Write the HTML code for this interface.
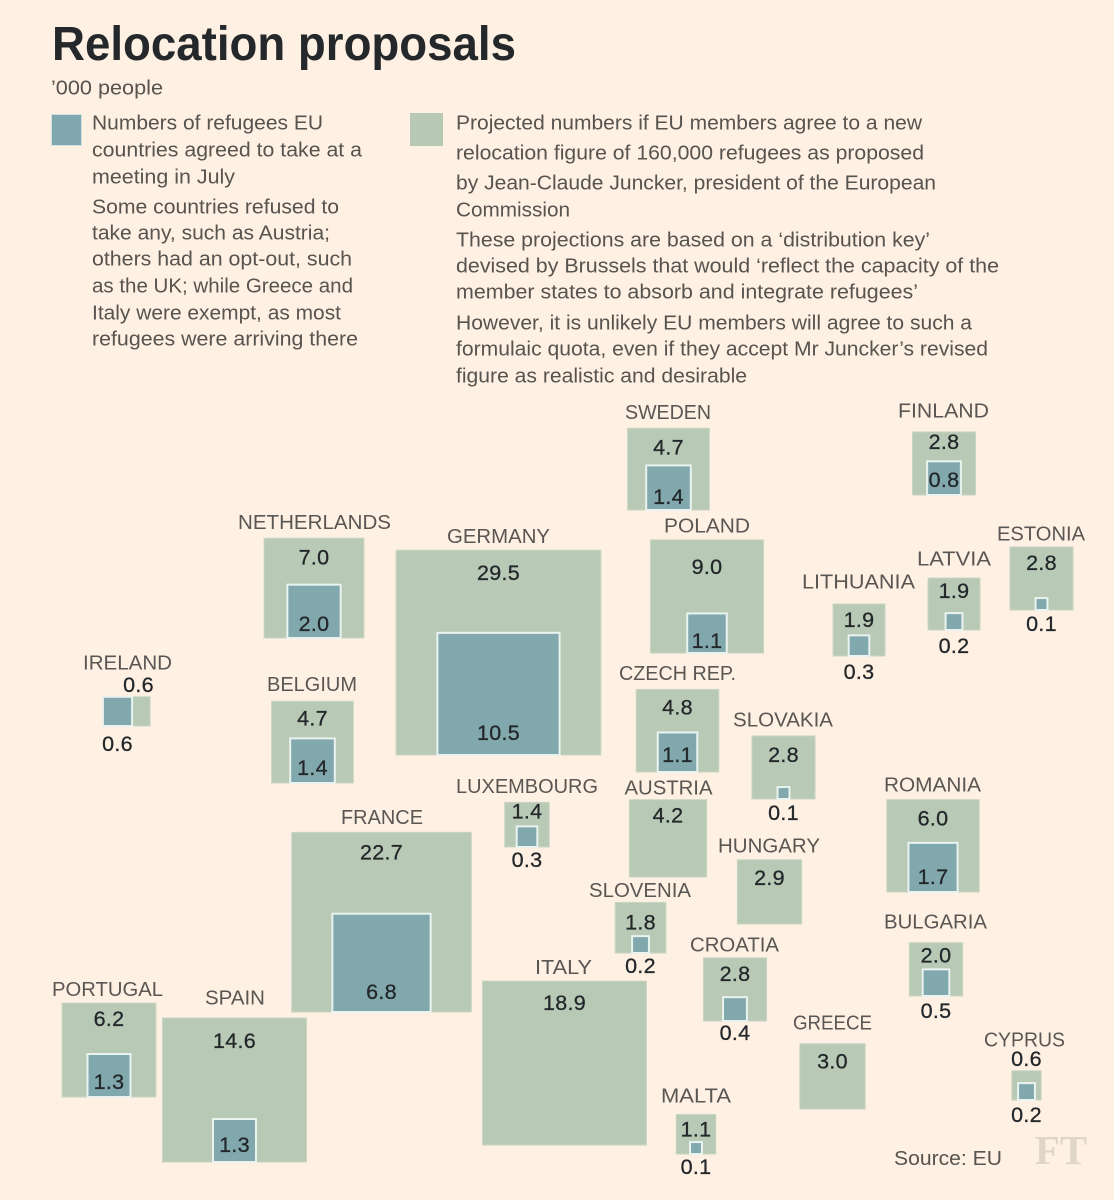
<!DOCTYPE html>
<html lang="en">
<head>
<meta charset="utf-8">
<title>Relocation proposals</title>
<style>
html,body{margin:0;padding:0;background:#fef0e3;}
svg{display:block;font-family:"Liberation Sans",sans-serif;}
.p{font-size:20px;fill:#57534f;}
.n{font-size:20px;fill:#5a5653;text-anchor:middle;}
.v{font-size:21.5px;fill:#23272a;stroke:#23272a;stroke-width:.3px;text-anchor:middle;letter-spacing:.3px;}
</style>
</head>
<body>
<svg id="chart" xmlns="http://www.w3.org/2000/svg" width="1114" height="1200" viewBox="0 0 1114 1200">
  <rect x="0" y="0" width="1114" height="1200" fill="#fef0e3"/>
  <text x="52" y="60" font-size="48" font-weight="700" fill="#24282a" textLength="464" lengthAdjust="spacingAndGlyphs">Relocation proposals</text>
  <text class="p" x="51" y="94.3" textLength="112">’000 people</text>

  <g>
    <rect x="51.5" y="114.5" width="30" height="31" fill="#7fa7ad" stroke="#cfe3e2" stroke-width="1"/>
    <g>
      <text class="p" x="92" y="129.3" textLength="231">Numbers of refugees EU</text>
      <text class="p" x="92" y="156.3" textLength="270">countries agreed to take at a</text>
      <text class="p" x="92" y="183.3" textLength="143">meeting in July</text>
      <text class="p" x="92" y="213.3" textLength="247">Some countries refused to</text>
      <text class="p" x="92" y="239.3" textLength="238">take any, such as Austria;</text>
      <text class="p" x="92" y="265.3" textLength="260">others had an opt-out, such</text>
      <text class="p" x="92" y="292.3" textLength="261">as the UK; while Greece and</text>
      <text class="p" x="92" y="319.3" textLength="249">Italy were exempt, as most</text>
      <text class="p" x="92" y="345.3" textLength="266">refugees were arriving there</text>
    </g>
  </g>

  <g>
    <rect x="410" y="113" width="33" height="33" fill="#b7c8b5"/>
    <g>
      <text class="p" x="456" y="129.3" textLength="466">Projected numbers if EU members agree to a new</text>
      <text class="p" x="456" y="159.3" textLength="468">relocation figure of 160,000 refugees as proposed</text>
      <text class="p" x="456" y="189.3" textLength="480">by Jean-Claude Juncker, president of the European</text>
      <text class="p" x="456" y="216.3" textLength="114">Commission</text>
      <text class="p" x="456" y="246.3" textLength="474">These projections are based on a ‘distribution key’</text>
      <text class="p" x="456" y="272.3" textLength="543">devised by Brussels that would ‘reflect the capacity of the</text>
      <text class="p" x="456" y="298.3" textLength="462">member states to absorb and integrate refugees’</text>
      <text class="p" x="456" y="329.3" textLength="516">However, it is unlikely EU members will agree to such a</text>
      <text class="p" x="456" y="355.3" textLength="532">formulaic quota, even if they accept Mr Juncker’s revised</text>
      <text class="p" x="456" y="382.3" textLength="291">figure as realistic and desirable</text>
    </g>
  </g>

  <g id="tiles"></g>

  <text class="p" x="894" y="1165" textLength="108">Source: EU</text>
  <text x="1035" y="1164" font-family="'Liberation Serif',serif" font-size="41" font-weight="700" fill="#e0d5c9" textLength="52" lengthAdjust="spacingAndGlyphs">FT</text>
</svg>

<script>
// Chart data: thousands of people
const countries = ["Sweden","Finland","Estonia","Latvia","Lithuania","Poland","Netherlands","Germany","Ireland","Belgium","Czech Rep.","Slovakia","Luxembourg","Austria","Romania","Hungary","France","Slovenia","Bulgaria","Croatia","Italy","Greece","Portugal","Spain","Malta","Cyprus"];
const projected = [4.7,2.8,2.8,1.9,1.9,9.0,7.0,29.5,0.6,4.7,4.8,2.8,1.4,4.2,6.0,2.9,22.7,1.8,2.0,2.8,18.9,3.0,6.2,14.6,1.1,0.6];
const agreed = [1.4,0.8,0.1,0.2,0.3,1.1,2.0,10.5,0.6,1.4,1.1,0.1,0.3,0,1.7,0,6.8,0.2,0.5,0.4,0,0,1.3,1.3,0.1,0.2];

// Cartogram layout, separate from the data: each tile is anchored at its bottom centre.
const tileLayout = {
  "Sweden":      {cx:668.5, base:510,  nameX:668,  nameW:86,  nameDy:-16, outerDy:19,  innerDy:-13},
  "Finland":     {cx:944,   base:495,  nameX:943.5,nameW:91,  nameDy:-21, outerDy:10,  innerDy:-15},
  "Estonia":     {cx:1041.5,base:610,  nameX:1041, nameW:88,  nameDy:-13, outerDy:16,  innerDy:14},
  "Latvia":      {cx:954,   base:630,  nameX:954,  nameW:74,  nameDy:-19, outerDy:13,  innerDy:16},
  "Lithuania":   {cx:859,   base:656,  nameX:858.5,nameW:113, nameDy:-22, outerDy:16,  innerDy:16},
  "Poland":      {cx:707,   base:653,  nameX:707,  nameW:86,  nameDy:-14, outerDy:27,  innerDy:-12},
  "Netherlands": {cx:314,   base:638,  nameX:314.5,nameW:153, nameDy:-16, outerDy:19,  innerDy:-14},
  "Germany":     {cx:498.5, base:755,  nameX:498.5,nameW:103, nameDy:-14, outerDy:23,  innerDy:-22},
  "Ireland":     {cx:135.5, base:726,  nameX:127.5,nameW:89,  nameDy:-34, outerDy:-12, innerDy:18, innerDx:-18, outerDx:3},
  "Belgium":     {cx:312.5, base:783,  nameX:312,  nameW:90,  nameDy:-17, outerDy:17,  innerDy:-15},
  "Czech Rep.":  {cx:677.5, base:772,  nameX:677.5,nameW:117, nameDy:-16, outerDy:18,  innerDy:-17},
  "Slovakia":    {cx:783.5, base:799,  nameX:783,  nameW:100, nameDy:-16, outerDy:19,  innerDy:14},
  "Luxembourg":  {cx:527,   base:847,  nameX:527,  nameW:142, nameDy:-16, outerDy:9,   innerDy:13},
  "Austria":     {cx:668,   base:877,  nameX:668.5,nameW:88,  nameDy:-12, outerDy:16,  innerDy:0},
  "Romania":     {cx:933,   base:892,  nameX:932.5,nameW:97,  nameDy:-15, outerDy:19,  innerDy:-15},
  "Hungary":     {cx:769.5, base:924,  nameX:769,  nameW:102, nameDy:-14, outerDy:18,  innerDy:0},
  "France":      {cx:381.5, base:1012, nameX:382,  nameW:82,  nameDy:-15, outerDy:20,  innerDy:-20},
  "Slovenia":    {cx:640.5, base:953,  nameX:640,  nameW:102, nameDy:-12, outerDy:20,  innerDy:13},
  "Bulgaria":    {cx:936,   base:996,  nameX:935.5,nameW:103, nameDy:-21, outerDy:13,  innerDy:15},
  "Croatia":     {cx:735,   base:1021, nameX:734.5,nameW:89,  nameDy:-13, outerDy:16,  innerDy:12},
  "Italy":       {cx:564.5, base:1145, nameX:563.5,nameW:57,  nameDy:-14, outerDy:22,  innerDy:0},
  "Greece":      {cx:832.5, base:1109, nameX:832.5,nameW:79,  nameDy:-21, outerDy:18,  innerDy:0},
  "Portugal":    {cx:109,   base:1097, nameX:107.5,nameW:111, nameDy:-14, outerDy:16,  innerDy:-15},
  "Spain":       {cx:234.5, base:1162, nameX:235,  nameW:60,  nameDy:-20, outerDy:23,  innerDy:-17},
  "Malta":       {cx:696,   base:1154, nameX:696,  nameW:70,  nameDy:-18.5,outerDy:15, innerDy:13},
  "Cyprus":      {cx:1026.5,base:1100, nameX:1024.5,nameW:81, nameDy:-31, outerDy:-12, innerDy:15}
};

// Area scale: side length in pixels grows with the square root of the value.
const SIDE_PER_ROOT = 37.7;
function side(value) { return SIDE_PER_ROOT * Math.sqrt(value); }

const SVG_NS = "http://www.w3.org/2000/svg";
const tilesGroup = document.getElementById("tiles");

document.querySelectorAll("text.p").forEach(function (el) {
  el.setAttribute("lengthAdjust", "spacingAndGlyphs");
});

function slug(name) { return name.toLowerCase().replace(/[^a-z]+/g, "-").replace(/-$/, ""); }

function rect(parent, x, y, size, fill, stroke, strokeWidth) {
  const el = document.createElementNS(SVG_NS, "rect");
  el.setAttribute("x", x);
  el.setAttribute("y", y);
  el.setAttribute("width", size);
  el.setAttribute("height", size);
  el.setAttribute("fill", fill);
  if (stroke) {
    el.setAttribute("stroke", stroke);
    el.setAttribute("stroke-width", strokeWidth);
  }
  parent.appendChild(el);
  return el;
}

function label(parent, cls, x, centreY, content, baselineOffset) {
  const el = document.createElementNS(SVG_NS, "text");
  el.setAttribute("class", cls);
  el.setAttribute("x", x);
  el.setAttribute("y", centreY + baselineOffset);
  el.textContent = content;
  parent.appendChild(el);
  return el;
}

countries.forEach(function (country, i) {
  const layout = tileLayout[country];
  const key = slug(country);
  const outerSide = side(projected[i]);
  const innerSide = side(agreed[i]);
  const outerTop = layout.base - outerSide;

  const tile = document.createElementNS(SVG_NS, "g");
  
  
  tilesGroup.appendChild(tile);

  const outerSquare = rect(tile, layout.cx - outerSide / 2, outerTop, outerSide, "#b8c9b6", "#c9d6c3", 1);
  
  

  if (agreed[i] > 0) {
    const innerCx = layout.cx + (layout.innerDx || 0);
    const innerSquare = rect(tile, innerCx - innerSide / 2, layout.base - innerSide, innerSide, "#81a8ad", "#eaf3ef", 2);
    
    

    const innerText = label(tile, "v", innerCx, layout.base + layout.innerDy, agreed[i].toFixed(1), 7);
    
    
  }

  const outerText = label(tile, "v", layout.cx + (layout.outerDx || 0), outerTop + layout.outerDy, projected[i].toFixed(1), 7);
  
  

  const nameText = label(tile, "n", layout.nameX, outerTop + layout.nameDy, country.toUpperCase(), 6.7);
  nameText.setAttribute("textLength", layout.nameW);
  nameText.setAttribute("lengthAdjust", "spacingAndGlyphs");
  
  
});
</script>
</body>
</html>
